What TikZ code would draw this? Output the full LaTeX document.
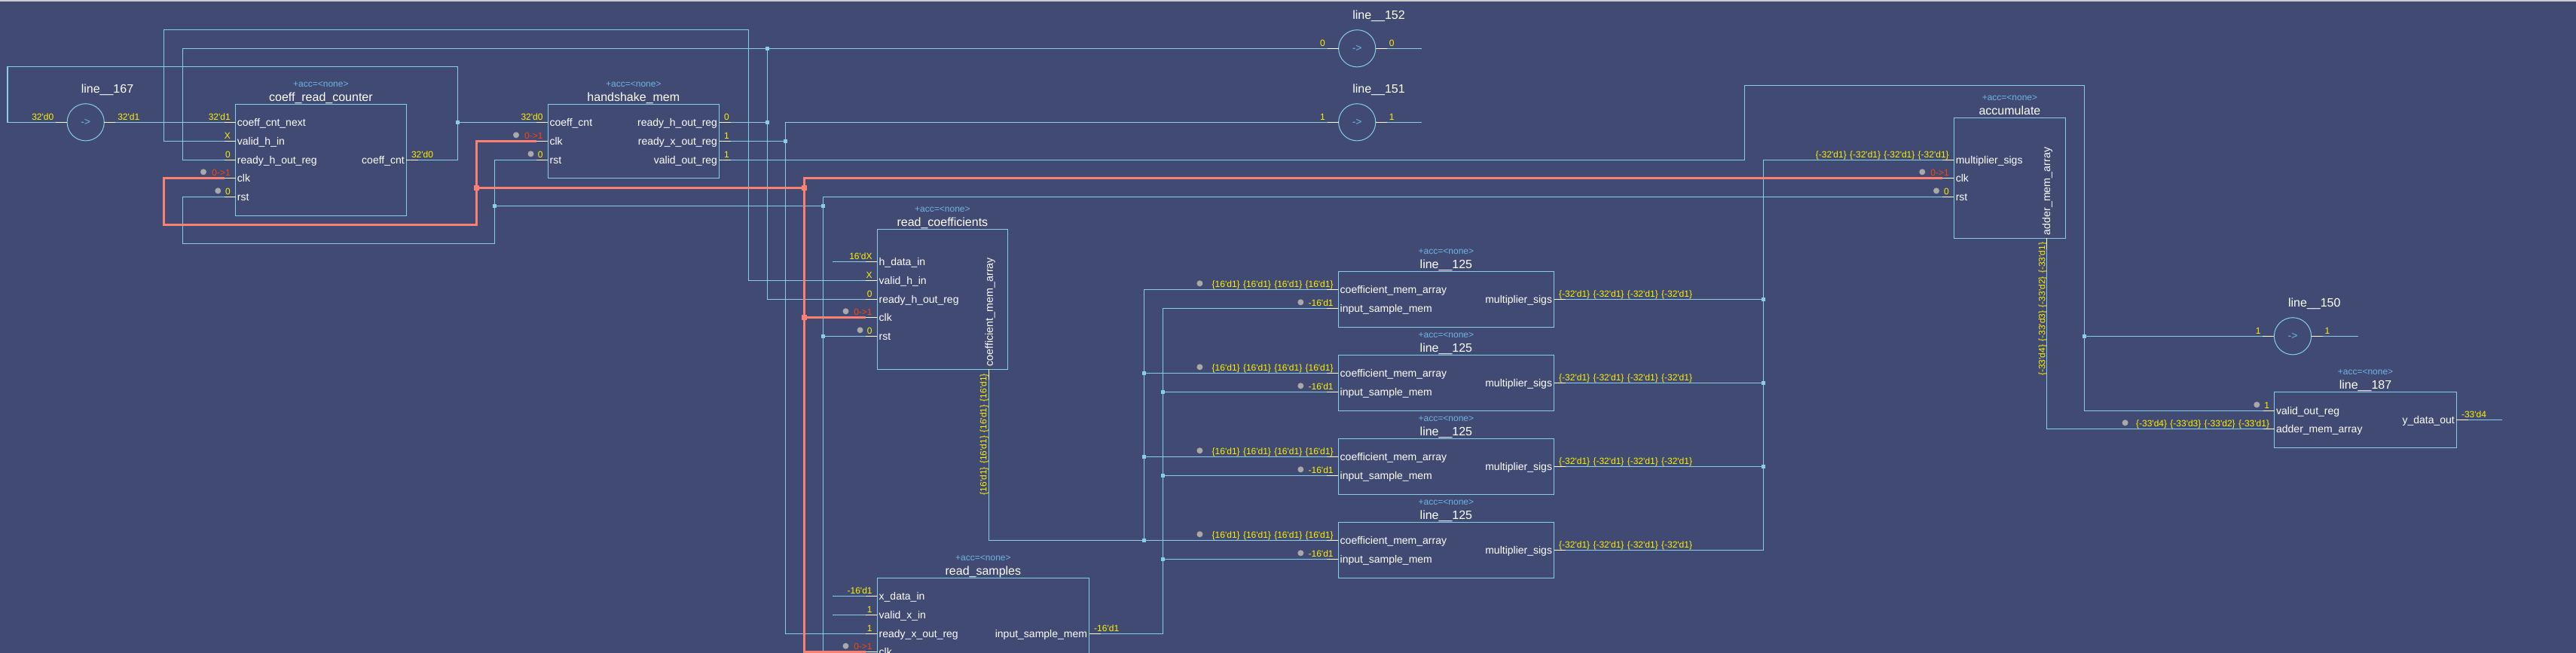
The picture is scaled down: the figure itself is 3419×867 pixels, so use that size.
\documentclass[tikz,border=0pt]{standalone}
\usepackage{fontspec}
\newfontfamily\hdlfont{Liberation Sans}
\definecolor{bgcol}{RGB}{64,74,115}
\definecolor{wirecol}{RGB}{135,206,235}
\definecolor{clkcol}{RGB}{250,128,114}
\definecolor{acccol}{RGB}{110,180,230}
\definecolor{edgecol}{RGB}{255,69,0}
\definecolor{dotcol}{RGB}{169,169,169}
\tikzset{
  wire/.style={draw=wirecol,line width=1.3pt},
  clkwire/.style={draw=clkcol,line width=3.5pt,line join=miter},
  stub/.style={draw=white,line width=1.3pt},
  blockbox/.style={draw=wirecol,line width=1.3pt,rectangle,inner sep=0pt,outer sep=0pt},
  bufbox/.style={draw=wirecol,line width=1pt,circle,inner sep=0pt,outer sep=0pt,minimum size=49.2pt,text=acccol,font=\hdlfont\fontsize{14}{14}\selectfont},
  portname/.style={inner sep=0pt,text=white,font=\hdlfont\fontsize{14}{14}\selectfont},
  sideport/.style={inner sep=0pt,text=white,font=\hdlfont\fontsize{14.3}{14.3}\selectfont,rotate=90},
  val/.style={inner sep=0pt,text=yellow,font=\hdlfont\fontsize{12}{12}\selectfont},
  sideval/.style={val,rotate=90},
  edgeval/.style={inner sep=0pt,text=edgecol,font=\hdlfont\fontsize{12}{12}\selectfont},
  acclabel/.style={inner sep=0pt,text=acccol,font=\hdlfont\fontsize{12}{12}\selectfont},
  blockname/.style={inner sep=0pt,text=white,font=\hdlfont\fontsize{16}{16}\selectfont},
  probe/.style={circle,fill=dotcol,inner sep=0pt,minimum size=8pt},
  jblue/.style={rectangle,fill=wirecol,inner sep=0pt,minimum size=5pt},
  jred/.style={rectangle,fill=clkcol,inner sep=0pt,minimum size=7.5pt},
}
% block: id, x1, y1, x2, y2, name
\newcommand{\mkblock}[6]{%
  \pgfmathsetmacro{\bw}{#4-#2}\pgfmathsetmacro{\bh}{#5-#3}%
  \pgfmathsetmacro{\bcx}{(#2+#4)/2}\pgfmathsetmacro{\bcy}{(#3+#5)/2}%
  \node[blockbox,minimum width=\bw pt,minimum height=\bh pt] (#1) at (\bcx,\bcy) {};
  \node[acclabel,anchor=base] (#1-acc) at (\bcx,#3-23) {+acc=<none>};
  \node[blockname,anchor=base] (#1-name) at (\bcx,#3-4) {#6};
}
% input port: id, x, y, text, value
\newcommand{\mkin}[5]{%
  \coordinate (#1) at (#2,#3);
  \coordinate (#1-s) at (#2-15,#3);
  \node[portname,anchor=base west] (#1-t) at (#2+2.2,#3+5) {#4};
  \node[val,anchor=base east] (#1-v) at (#2-6.5,#3-3.2) {#5};
  \draw[stub] (#1-s) -- (#1);
}
% input port with probe dot: ... , dot x
\newcommand{\mkind}[6]{%
  \mkin{#1}{#2}{#3}{#4}{#5}%
  \node[probe] (#1-d) at (#6,#3-8) {};
}
% clock port: id, x, y, dot x
\newcommand{\mkclk}[4]{%
  \coordinate (#1) at (#2,#3);
  \coordinate (#1-s) at (#2-15,#3);
  \node[portname,anchor=base west] (#1-t) at (#2+2.2,#3+5) {clk};
  \node[edgeval,anchor=base east] (#1-v) at (#2-6.5,#3-3.2) {0->1};
  \node[probe] (#1-d) at (#4,#3-8) {};
  \draw[stub] (#1-s) -- (#1);
}
% output port: id, x, y, text, value
\newcommand{\mkout}[5]{%
  \coordinate (#1) at (#2,#3);
  \coordinate (#1-s) at (#2+15.5,#3);
  \node[portname,anchor=base east] (#1-t) at (#2-2.3,#3+5) {#4};
  \node[val,anchor=base west] (#1-v) at (#2+6.5,#3-3.2) {#5};
  \draw[stub] (#1) -- (#1-s);
}
% buffer: id, cx, cy, name, in value, out value
\newcommand{\mkbuf}[6]{%
  \node[bufbox] (#1) at (#2,#3) {->};
  \node[blockname,anchor=base] (#1-name) at (#2+28.8,#3-39) {#4};
  \coordinate (#1-i) at (#2-24.6,#3);
  \coordinate (#1-is) at (#2-39.6,#3);
  \coordinate (#1-o) at (#2+24.6,#3);
  \coordinate (#1-os) at (#2+39.6,#3);
  \node[val,anchor=base east] (#1-iv) at (#2-42.2,#3-3.2) {#5};
  \node[val,anchor=base west] (#1-ov) at (#2+42.4,#3-3.2) {#6};
  \draw[stub] (#1-is) -- (#1-i);
  \draw[stub] (#1-o) -- (#1-os);
}
\newcommand{\vsp}{\hspace{4.3pt}}
\newcommand{\hfour}{\{16'd1\}\vsp\{16'd1\}\vsp\{16'd1\}\vsp\{16'd1\}}
\newcommand{\mfour}{\{-32'd1\}\vsp\{-32'd1\}\vsp\{-32'd1\}\vsp\{-32'd1\}}
\newcommand{\afour}{\{-33'd4\}\vsp\{-33'd3\}\vsp\{-33'd2\}\vsp\{-33'd1\}}
% multiplier block: id, top
\newcommand{\mkmul}[2]{%
  \mkblock{#1}{1776.3}{#2}{2062.5}{#2+74}{line\_\_125}
  \mkind{#1-c}{1776.3}{#2+24}{coefficient\_mem\_array}{\hfour}{1592.4}
  \mkind{#1-i}{1776.3}{#2+49}{input\_sample\_mem}{-16'd1}{1726.3}
  \mkout{#1-o}{2062.5}{#2+37}{multiplier\_sigs}{\mfour}
}
\begin{document}
\begin{tikzpicture}[x=1pt,y=-1pt]
\useasboundingbox (0,0) rectangle (3419,867);
\clip (0,0) rectangle (3419,867);
\fill[bgcol] (0,0) rectangle (3419,867);
\fill[black!20] (0,0) rectangle (3419,1.6);

% ---- blocks and ports
\mkbuf{b167}{113.7}{162.3}{line\_\_167}{32'd0}{32'd1}
\mkbuf{b152}{1801.2}{64.3}{line\_\_152}{0}{0}
\mkbuf{b151}{1801.2}{162.3}{line\_\_151}{1}{1}
\mkbuf{b150}{3043}{446.3}{line\_\_150}{1}{1}

\mkblock{crc}{312.5}{138.3}{539.3}{286.3}{coeff\_read\_counter}
\mkin{crc-next}{312.5}{162.3}{coeff\_cnt\_next}{32'd1}
\mkin{crc-valid}{312.5}{187.3}{valid\_h\_in}{X}
\mkin{crc-ready}{312.5}{212.3}{ready\_h\_out\_reg}{0}
\mkclk{crc-clk}{312.5}{236.3}{270}
\mkind{crc-rst}{312.5}{261.3}{rst}{0}{289.3}
\mkout{crc-cnt}{539.3}{212.3}{coeff\_cnt}{32'd0}

\mkblock{hm}{727.2}{138.3}{954.5}{236.3}{handshake\_mem}
\mkin{hm-cnt}{727.2}{162.3}{coeff\_cnt}{32'd0}
\mkclk{hm-clk}{727.2}{187.3}{685}
\mkind{hm-rst}{727.2}{212.3}{rst}{0}{704.5}
\mkout{hm-rh}{954.5}{162.3}{ready\_h\_out\_reg}{0}
\mkout{hm-rx}{954.5}{187.3}{ready\_x\_out\_reg}{1}
\mkout{hm-vo}{954.5}{212.3}{valid\_out\_reg}{1}

\mkblock{rc}{1164.3}{304.3}{1337.5}{490.3}{read\_coefficients}
\mkin{rc-h}{1164.3}{347.3}{h\_data\_in}{16'dX}
\mkin{rc-valid}{1164.3}{372.3}{valid\_h\_in}{X}
\mkin{rc-ready}{1164.3}{397.3}{ready\_h\_out\_reg}{0}
\mkclk{rc-clk}{1164.3}{421.3}{1122.5}
\mkind{rc-rst}{1164.3}{446.3}{rst}{0}{1141.5}
\node[sideport,anchor=base west] (rc-side) at (1317.9,486.7) {coefficient\_mem\_array};
\coordinate (rc-out) at (1312.5,490.3);
\coordinate (rc-out-s) at (1312.5,504);
\draw[stub] (rc-out) -- (rc-out-s);
\node[sideval,anchor=base east] (rc-outv) at (1309.4,496) {\hfour};

\mkblock{rs}{1164.3}{767.3}{1445.5}{910}{read\_samples}
\mkin{rs-x}{1164.3}{791.3}{x\_data\_in}{-16'd1}
\mkin{rs-valid}{1164.3}{816.3}{valid\_x\_in}{1}
\mkin{rs-ready}{1164.3}{841.3}{ready\_x\_out\_reg}{1}
\mkclk{rs-clk}{1164.3}{865.7}{1122.5}
\mkout{rs-out}{1445.5}{841.3}{input\_sample\_mem}{-16'd1}

\mkmul{m1}{360.3}
\mkmul{m2}{471.3}
\mkmul{m3}{582.3}
\mkmul{m4}{693.3}

\mkblock{ac}{2593.4}{156.3}{2741.5}{316.3}{accumulate}
\mkin{ac-m}{2593.4}{212.3}{multiplier\_sigs}{\mfour}
\mkclk{ac-clk}{2593.4}{236.3}{2551.3}
\mkind{ac-rst}{2593.4}{261.3}{rst}{0}{2570}
\node[sideport,anchor=base west] (ac-side) at (2721.2,312.7) {adder\_mem\_array};
\coordinate (ac-out) at (2716.3,316.3);
\coordinate (ac-out-s) at (2716.3,330.7);
\draw[stub] (ac-out) -- (ac-out-s);
\node[sideval,anchor=base east] (ac-outv) at (2714.4,321.7) {\afour};

\mkblock{l187}{3018.7}{520.3}{3260.3}{594.3}{line\_\_187}
\mkind{l187-valid}{3018.7}{545.3}{valid\_out\_reg}{1}{2995.3}
\mkind{l187-add}{3018.7}{569.3}{adder\_mem\_array}{\afour}{2820.6}
\mkout{l187-y}{3260.3}{557.3}{y\_data\_out}{-33'd4}

% ---- routing points
\coordinate (loopC) at (607.6,162.3);
\coordinate (loopT) at (607.6,88.3);
\coordinate (loopL) at (10,88.3);
\coordinate (vhA) at (217.4,39.3);
\coordinate (vhB) at (993.3,372.3);
\coordinate (rhA) at (242.4,64.3);
\coordinate (rhJ) at (1018.3,64.3);
\coordinate (rhK) at (1018.3,162.3);
\coordinate (rxT) at (1042.4,162.3);
\coordinate (rxJ) at (1042.4,187.3);
\coordinate (voA) at (2315.5,113.3);
\coordinate (voJ) at (2766.7,446.3);
\coordinate (rstA) at (242.4,323.3);
\coordinate (rstJ) at (656.3,273.3);
\coordinate (rstK) at (1092.4,273.3);
\coordinate (rstT) at (1092.4,261.3);
\coordinate (rstL) at (1092.4,446.3);
\coordinate (rstB) at (1092.4,867);
\coordinate (cvT) at (1518.3,384.3);
\coordinate (cv2) at (1518.3,495.3);
\coordinate (cv3) at (1518.3,606.3);
\coordinate (cv4) at (1518.3,717.3);
\coordinate (svT) at (1543.3,409.3);
\coordinate (sv2) at (1543.3,520.3);
\coordinate (sv3) at (1543.3,631.3);
\coordinate (sv4) at (1543.3,742.3);
\coordinate (mT) at (2340.5,212.3);
\coordinate (m1J) at (2340.5,397.3);
\coordinate (m2J) at (2340.5,508.3);
\coordinate (m3J) at (2340.5,619.3);
\coordinate (mB) at (2340.5,730.3);
\coordinate (b152e) at (1887,64.3);
\coordinate (b151e) at (1887,162.3);
\coordinate (b150e) at (3130,446.3);
\coordinate (yend) at (3320.6,557.3);
\coordinate (rchF) at (1105,347.3);
\coordinate (rsxF) at (1105,791.3);
\coordinate (rsvF) at (1105,816.3);
\coordinate (ckA) at (217.5,298.7);
\coordinate (ckB) at (632.3,187.3);
\coordinate (ckJ) at (632.3,249.3);
\coordinate (ckK) at (1067.5,249.3);
\coordinate (ckT) at (1067.5,236.3);
\coordinate (ckL) at (1067.5,421.3);
\coordinate (ckS) at (1067.5,865.7);

% ---- wires
\draw[wire] (b167-os) -- (crc-next-s);
\draw[wire] (crc-cnt-s) -| (loopT) -- (loopL) |- (b167-is);
\draw[wire] (loopC) -- (hm-cnt-s);
\draw[wire] (crc-valid-s) -| (vhA) -| (vhB) -- (rc-valid-s);
\draw[wire] (crc-ready-s) -| (rhA) -- (b152-is);
\draw[wire] (rhJ) -- (rhK) |- (rc-ready-s);
\draw[wire] (hm-rh-s) -- (rhK);
\draw[wire] (b151-is) -- (rxT) |- (rs-ready-s);
\draw[wire] (hm-rx-s) -- (rxJ);
\draw[wire] (hm-vo-s) -| (voA) -| (voJ) |- (l187-valid-s);
\draw[wire] (voJ) -- (b150-is);
\draw[wire] (ac-out-s) |- (l187-add-s);
\draw[wire] (crc-rst-s) -| (rstA) -| (rstJ) |- (hm-rst-s);
\draw[wire] (rstJ) -- (rstK);
\draw[wire] (ac-rst-s) -- (rstT) -- (rstB);
\draw[wire] (rstL) -- (rc-rst-s);
\draw[wire] (rc-out-s) |- (m4-c-s);
\draw[wire] (m1-c-s) -- (cvT) -- (cv4);
\draw[wire] (cv2) -- (m2-c-s);
\draw[wire] (cv3) -- (m3-c-s);
\draw[wire] (rs-out-s) -| (svT) -- (m1-i-s);
\draw[wire] (sv2) -- (m2-i-s);
\draw[wire] (sv3) -- (m3-i-s);
\draw[wire] (sv4) -- (m4-i-s);
\draw[wire] (ac-m-s) -- (mT) -- (mB) -- (m4-o-s);
\draw[wire] (m1-o-s) -- (m1J);
\draw[wire] (m2-o-s) -- (m2J);
\draw[wire] (m3-o-s) -- (m3J);
\draw[wire] (b152-os) -- (b152e);
\draw[wire] (b151-os) -- (b151e);
\draw[wire] (b150-os) -- (b150e);
\draw[wire] (l187-y-s) -- (yend);
\draw[wire] (rchF) -- (rc-h-s);
\draw[wire] (rsxF) -- (rs-x-s);
\draw[wire] (rsvF) -- (rs-valid-s);

% ---- clock net
\draw[clkwire] (crc-clk-s) -| (ckA) -| (ckB) -- (hm-clk-s);
\draw[clkwire] (ckJ) -- (ckK);
\draw[clkwire] (ac-clk-s) -- (ckT) -- (ckS) -- (rs-clk-s);
\draw[clkwire] (ckL) -- (rc-clk-s);

% ---- junctions
\foreach \jn in {loopC,rhJ,rhK,rxJ,voJ,rstJ,rstK,rstL,cv2,cv3,cv4,sv2,sv3,sv4,m1J,m2J,m3J}
  \node[jblue] (n-\jn) at (\jn) {};
\foreach \jn in {ckJ,ckK,ckL}
  \node[jred] (n-\jn) at (\jn) {};
\end{tikzpicture}
\end{document}
